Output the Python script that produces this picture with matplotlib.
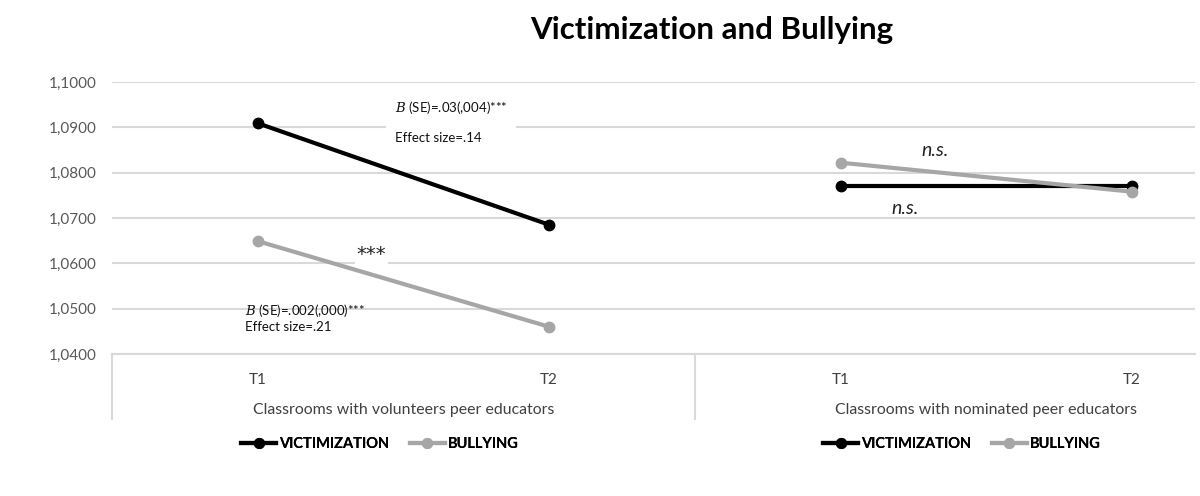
import matplotlib.pyplot as plt
import matplotlib.transforms as mtransforms
from matplotlib.lines import Line2D
from matplotlib.ticker import FuncFormatter

plt.rcParams['font.family'] = ['Lato', 'DejaVu Sans']
plt.rcParams['mathtext.fontset'] = 'dejavuserif'

# data (T1, T2 per classroom group)
time_labels = ["T1", "T2", "T1", "T2"]
group_labels = ["Classrooms with volunteers peer educators",
                "Classrooms with nominated peer educators"]
victim_volunteer = [1.0909, 1.0685]
bully_volunteer = [1.0649, 1.0460]
victim_nominated = [1.0771, 1.0771]
bully_nominated = [1.0822, 1.0758]

BLACK = "#000000"
GREY = "#a6a6a6"

fig = plt.figure(figsize=(12, 4.96), dpi=100)
ax = fig.add_axes([112 / 1200, 1 - 354 / 496, (1195 - 112) / 1200, 272 / 496])

lw = 3.0
ms = 7.5
ax.plot([0, 1], victim_volunteer, color=BLACK, lw=lw, marker="o", ms=ms, zorder=4)
ax.plot([0, 1], bully_volunteer, color=GREY, lw=lw, marker="o", ms=ms, zorder=3)
ax.plot([2, 3], victim_nominated, color=BLACK, lw=lw, marker="o", ms=ms, zorder=3)
ax.plot([2, 3], bully_nominated, color=GREY, lw=lw, marker="o", ms=ms, zorder=4)

ax.set_xlim(-0.5, 3.216)
ax.set_ylim(1.04, 1.10)
ax.set_yticks([1.04, 1.05, 1.06, 1.07, 1.08, 1.09, 1.10])
ax.yaxis.set_major_formatter(FuncFormatter(lambda v, p: f"{v:.4f}".replace(".", ",")))
ax.tick_params(axis="y", length=0, pad=11, labelsize=11, labelcolor="#595959")
ax.set_xticks(range(4))
ax.set_xticklabels(time_labels)
ax.tick_params(axis="x", length=0, pad=14, labelsize=11, labelcolor="#404040")
ax.grid(axis="y", color="#d9d9d9", lw=1.5)
ax.set_axisbelow(True)
for s in ["top", "right", "left"]:
    ax.spines[s].set_visible(False)
ax.spines["bottom"].set_color("#d9d9d9")
ax.spines["bottom"].set_linewidth(1.5)

# multi-level category box
trans = mtransforms.blended_transform_factory(ax.transData, ax.transAxes)
for xv in [-0.5, 1.5]:
    ax.add_line(Line2D([xv, xv], [0, -0.24], transform=trans, color="#d9d9d9",
                       lw=1.5, clip_on=False))
ax.text(0.5, -0.205, group_labels[0], transform=trans, ha="center", va="center",
        fontsize=11.4, color="#404040")
ax.text(2.5, -0.205, group_labels[1], transform=trans, ha="center", va="center",
        fontsize=11.4, color="#404040")

# annotations
ax.text(0.47, 1.0912, "$B$ (SE)=.03(,004)***\n\nEffect size=.14", ha="left", va="center",
        fontsize=9.5, color="#111111", linespacing=1.2,
        bbox=dict(facecolor="white", edgecolor="none", pad=6), zorder=5)
ax.text(0.39, 1.0620, "***", ha="center", va="center", fontsize=14, color="#222222",
        family="DejaVu Sans",
        bbox=dict(facecolor="white", edgecolor="none", pad=1), zorder=2)
ax.text(-0.045, 1.0480, "$B$ (SE)=.002(,000)***\nEffect size=.21", ha="left", va="center",
        fontsize=9.5, color="#111111", linespacing=1.25, zorder=5)
ax.text(2.324, 1.0848, "n.s.", ha="center", va="center", fontsize=14, style="italic",
        color="#222222")
ax.text(2.22, 1.0720, "n.s.", ha="center", va="center", fontsize=14, style="italic",
        color="#222222")

fig.text(712 / 1200, 1 - 30 / 496, "Victimization and Bullying", ha="center", va="center",
         fontsize=22.5, fontweight="bold")

handles = [Line2D([], [], color=BLACK, lw=lw, marker="o", ms=7),
           Line2D([], [], color=GREY, lw=lw, marker="o", ms=7)]
names = ["VICTIMIZATION", "BULLYING"]
for cx in [380 / 1200, 962 / 1200]:
    leg = fig.legend(handles, names, loc="center", bbox_to_anchor=(cx, 1 - 444 / 496),
                     ncol=2, frameon=False, handlelength=2.4, handletextpad=0.2,
                     columnspacing=1.4, prop={"weight": "bold", "size": 10.5})
    fig.add_artist(leg)

fig.savefig("out.png", dpi=100)
